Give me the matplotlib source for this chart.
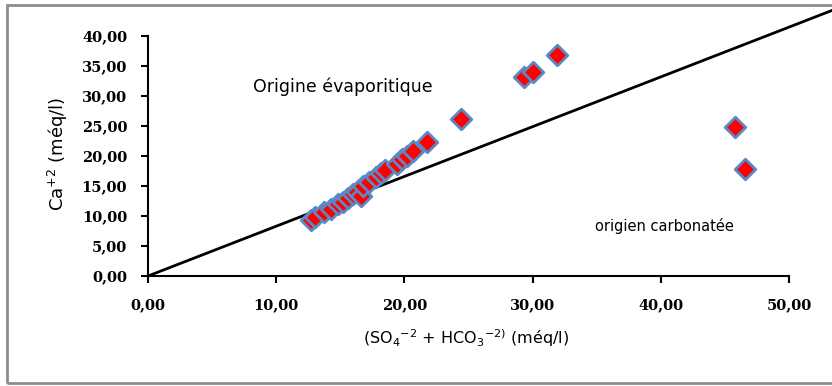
import matplotlib
matplotlib.use("Agg")
import matplotlib.pyplot as plt
from matplotlib.patches import Rectangle
from matplotlib.ticker import FuncFormatter

OUTPUT_FILE = "out.png"

# SO4 + HCO3 (meq/l) vs Ca (meq/l)
so4_hco3 = [12.7, 13.0, 13.7, 14.3, 14.8, 15.2, 15.6, 16.0, 16.3, 16.6,
            16.8, 17.2, 17.8, 18.2, 18.5, 19.4, 19.8, 20.2, 20.7, 21.8,
            24.4, 29.3, 30.0, 31.9, 45.8, 46.6]
ca = [9.3, 9.8, 10.6, 11.2, 12.0, 12.4, 13.0, 13.6, 14.0, 13.3,
      15.0, 15.6, 16.5, 17.2, 17.6, 18.7, 19.5, 20.0, 20.8, 22.3,
      26.2, 33.2, 34.0, 36.9, 24.9, 17.9]

# separation line (drawn past the plot area, as in the original)
sep_x = [0, 53.4]
sep_y = [0, 44.3]

x_ticks = [0, 10, 20, 30, 40, 50]
y_ticks = [0, 5, 10, 15, 20, 25, 30, 35, 40]


def comma_fmt(v, pos):
    return f"{v:.2f}".replace(".", ",")


def plot_chart():
    plt.rcParams["font.family"] = "DejaVu Sans"
    plt.rcParams["mathtext.fontset"] = "dejavusans"

    fig = plt.figure(figsize=(8.32, 3.86), dpi=100)
    ax = fig.add_axes([148 / 832, 110 / 386, 641 / 832, 240 / 386])

    ax.plot(sep_x, sep_y, color="black", lw=2, clip_on=False, zorder=2)
    ax.scatter(so4_hco3, ca, marker="D", s=110, color="red",
               edgecolors="#5A8AC6", linewidths=2, zorder=3, clip_on=False)

    ax.set_xlim(0, 50)
    ax.set_ylim(0, 40)
    ax.set_xticks(x_ticks)
    ax.set_yticks(y_ticks)
    ax.xaxis.set_major_formatter(FuncFormatter(comma_fmt))
    ax.yaxis.set_major_formatter(FuncFormatter(comma_fmt))
    for lab in ax.get_xticklabels() + ax.get_yticklabels():
        lab.set_fontfamily("DejaVu Serif")
        lab.set_fontweight("bold")
        lab.set_fontsize(10.5)
    ax.tick_params(direction="out", length=5, width=1.5)
    ax.tick_params(axis="x", pad=11)
    ax.tick_params(axis="y", pad=10)
    ax.spines["top"].set_visible(False)
    ax.spines["right"].set_visible(False)
    ax.spines["left"].set_linewidth(1.5)
    ax.spines["bottom"].set_linewidth(1.5)

    ax.set_xlabel("(SO$_4$$^{-2}$ + HCO$_3$$^{-2)}$ (méq/l)",
                  fontsize=11.5, va="center")
    ax.xaxis.set_label_coords(0.496, -0.258)
    ax.set_ylabel("Ca$^{+2}$ (méq/l)", fontsize=13, va="center")
    ax.yaxis.set_label_coords(-0.14, 0.51)

    ax.text(8.2, 31.5, "Origine évaporitique", fontsize=12.5, va="center")
    ax.text(34.9, 8.3, "origien carbonatée", fontsize=10.5, va="center")

    fig.patches.append(Rectangle((7 / 832, 3 / 386), 1.0, 378 / 386,
                                 transform=fig.transFigure, fill=False,
                                 edgecolor="#8C8C8C", lw=2))

    fig.savefig(OUTPUT_FILE, dpi=100)


if __name__ == "__main__":
    plot_chart()
